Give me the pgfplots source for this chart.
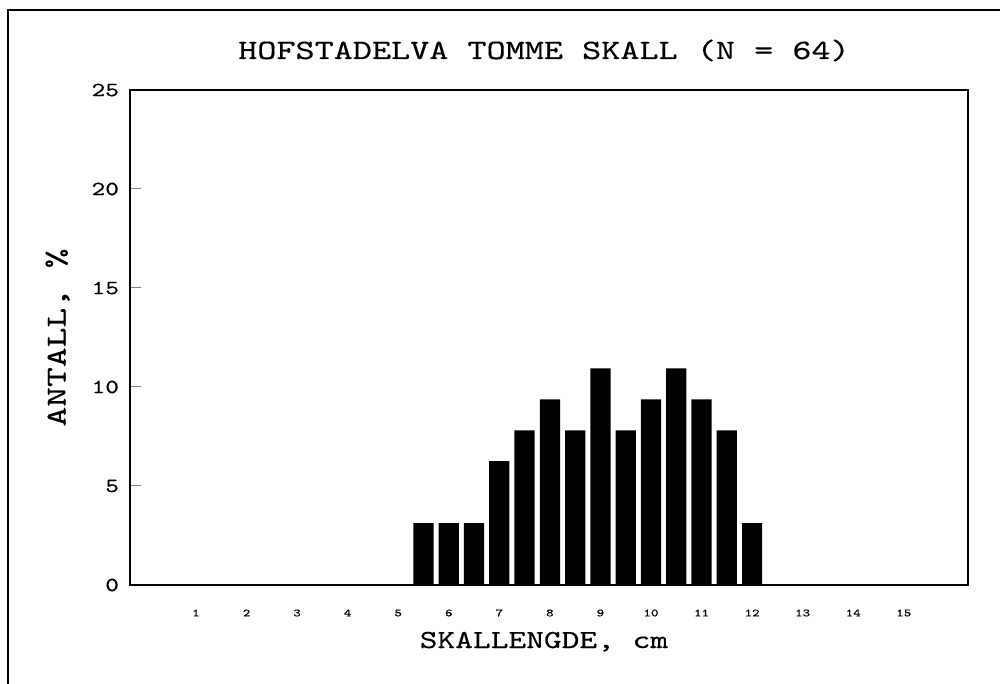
\documentclass[border=0pt]{standalone}
\usepackage{pgfplots}
\pgfplotsset{compat=1.18}
\usepackage{fontspec}
\newfontfamily\cour{lmmono10-regular}[Extension=.otf, FakeStretch=1.3, FakeBold=0.4]
\begin{document}
\begin{tikzpicture}
\path[use as bounding box] (-65pt,-49.5pt) rectangle (435pt,292.5pt);
\draw[line width=0.8pt] (-61pt,-49.5pt) -- (-61pt,287.5pt) -- (435pt,287.5pt);
\begin{axis}[
  at={(0,0)}, anchor=south west,
  scale only axis,
  width=419pt, height=247.5pt,
  xmin=-0.305, xmax=16.27,
  ymin=0, ymax=25,
  axis line style={line width=1pt},
  ytick={0,5,10,15,20,25},
  xtick={1,2,...,15},
  tick align=inside,
  ytick pos=left,
  xtick pos=bottom,
  major tick length=5.5pt,
  x tick style={draw=none},
  y tick style={line width=0.5pt},
  /pgf/number format/assume math mode=true,
  yticklabel style={font=\cour\fontsize{10}{12}\selectfont, xshift=-2pt},
  xticklabel style={font=\cour\fontsize{5.5}{6}\selectfont, anchor=center, yshift=-8.5pt},
  title={HOFSTADELVA TOMME SKALL (N = 64)},
  title style={font=\cour\fontsize{14}{16}\selectfont, at={(0.494,1)}, anchor=base, yshift=9.5pt},
  xlabel={SKALLENGDE, cm},
  xlabel style={font=\cour\fontsize{13}{15}\selectfont, at={(axis description cs:0.494,0)}, anchor=base, yshift=-31.5pt},
  ylabel={ANTALL, \%},
  ylabel style={font=\cour\fontsize{14.5}{16}\selectfont, at={(axis description cs:-0.0865,0.5)}, anchor=center, rotate=0},
  ybar, bar width=0.4,
]
\addplot[fill=black, draw=none] coordinates {
 (5.5,3.125) (6.0,3.125) (6.5,3.125) (7.0,6.25) (7.5,7.8125) (8.0,9.375)
 (8.5,7.8125) (9.0,10.9375) (9.5,7.8125) (10.0,9.375) (10.5,10.9375)
 (11.0,9.375) (11.5,7.8125) (12.0,3.125)
};
\end{axis}
\end{tikzpicture}
\end{document}
